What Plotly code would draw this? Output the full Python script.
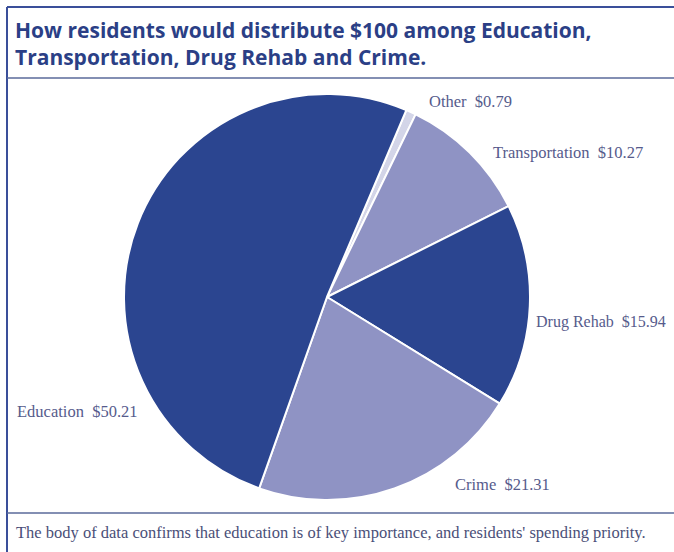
import plotly.graph_objects as go

categories = ["Other", "Transportation", "Drug Rehab", "Crime", "Education"]
values = [0.79, 10.27, 15.94, 21.31, 50.21]
label_texts = ["Other  $0.79", "Transportation  $10.27", "Drug Rehab  $15.94",
               "Crime  $21.31", "Education  $50.21"]
colors = ["#d3d5e8", "#8f93c4", "#2b4590", "#8f93c4", "#2b4590"]

W, H = 674, 552
cx, cy, r = 327, 297, 203

def px(x):
    return x / W

def py(y):
    return 1 - y / H

fig = go.Figure(go.Pie(
    labels=categories, values=values, sort=False, direction="clockwise",
    rotation=23, textinfo="none", hoverinfo="label+value",
    marker=dict(colors=colors, line=dict(color="white", width=2)),
    domain=dict(x=[px(cx - r), px(cx + r)], y=[py(cy + r), py(cy - r)]),
    showlegend=False,
))

label_pos = {
    "Other": (427, 101),
    "Transportation": (491, 152),
    "Drug Rehab": (534, 322),
    "Crime": (453, 484),
    "Education": (15, 411),
}
annotations = []
for cat, txt in zip(categories, label_texts):
    x, y = label_pos[cat]
    annotations.append(dict(
        x=px(x), y=py(y), xref="paper", yref="paper", text=txt,
        showarrow=False, xanchor="left", yanchor="middle",
        font=dict(family="Liberation Serif", size=16 if cat == "Drug Rehab" else 16.5,
                  color="#565b8c")))

annotations.append(dict(
    x=px(13), y=py(43), xref="paper", yref="paper",
    text="<b>How residents would distribute $100 among Education,<br>Transportation, Drug Rehab and Crime.</b>",
    showarrow=False, xanchor="left", yanchor="middle", align="left",
    font=dict(family="Open Sans", size=21, color="#2b3f86")))
annotations.append(dict(
    x=px(14), y=py(532), xref="paper", yref="paper",
    text="The body of data confirms that education is of key importance, and residents' spending priority.",
    showarrow=False, xanchor="left", yanchor="middle",
    font=dict(family="Liberation Serif", size=16.5, color="#4a4f78")))

line_col = "#3a4f9a"
shapes = [
    dict(type="line", xref="paper", yref="paper", x0=px(7), x1=1, y0=py(7), y1=py(7),
         line=dict(color=line_col, width=2)),
    dict(type="line", xref="paper", yref="paper", x0=px(7), x1=px(7), y0=py(7), y1=0,
         line=dict(color=line_col, width=2)),
    dict(type="line", xref="paper", yref="paper", x0=px(7), x1=1, y0=py(78), y1=py(78),
         line=dict(color="#5a6a9a", width=1.5)),
    dict(type="line", xref="paper", yref="paper", x0=px(7), x1=1, y0=py(513), y1=py(513),
         line=dict(color="#5a6a9a", width=1.5)),
]

fig.update_layout(
    width=W, height=H, margin=dict(l=0, r=0, t=0, b=0),
    paper_bgcolor="white", plot_bgcolor="white",
    annotations=annotations, shapes=shapes,
)
fig.write_html("out.html", config={"displayModeBar": False},
               post_script="document.body.style.margin='0';document.body.style.padding='0';")
